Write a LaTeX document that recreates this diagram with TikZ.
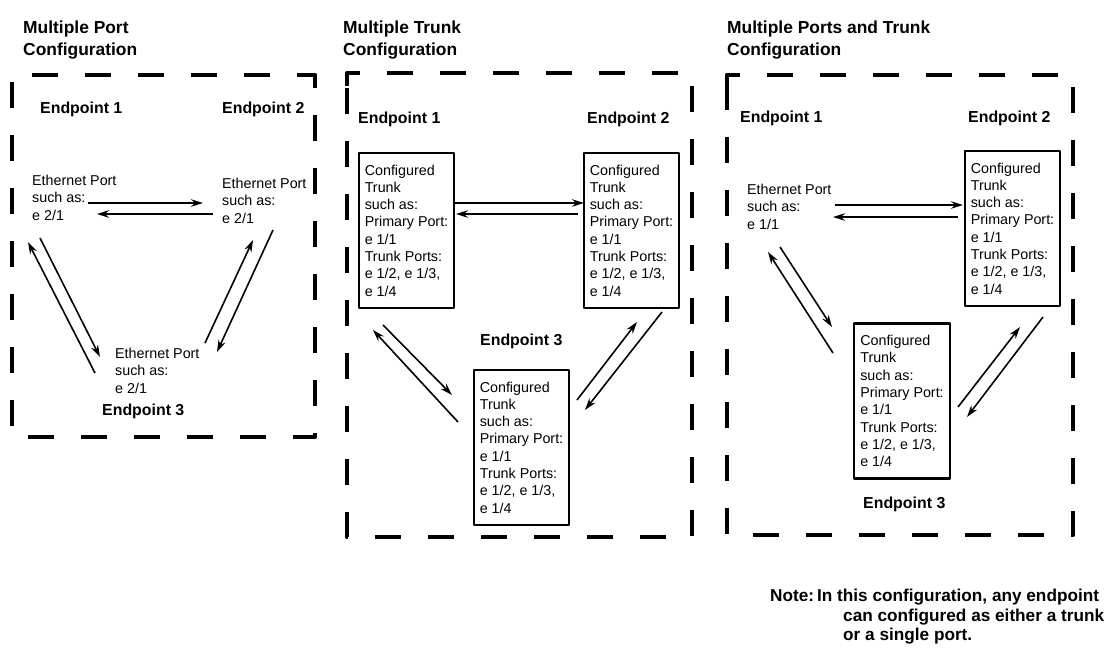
\documentclass[tikz,border=0pt]{standalone}
\usepackage{fontspec}
\setmainfont{Liberation Sans}
\usetikzlibrary{arrows.meta}
\newcommand{\headfont}{\fontsize{17.4}{22}\selectfont\bfseries}
\newcommand{\epfont}{\fontsize{15.9}{19}\selectfont\bfseries}
\newcommand{\bodyfont}{\fontsize{14.3}{17.3}\selectfont}
\newcommand{\notefont}{\fontsize{17.2}{19.5}\selectfont\bfseries}
\tikzset{
  frame/.style={line width=4.8pt, dash pattern=on 26pt off 27pt},
  heading/.style={anchor=north west, inner sep=0pt, align=left, font=\headfont},
  eplabel/.style={anchor=north west, inner sep=0pt, font=\epfont},
  porttext/.style={anchor=north west, inner sep=0pt, align=left, font=\bodyfont},
  trunkbox/.style={draw, line width=2.4pt, align=left, font=\bodyfont,
    minimum width=95pt, minimum height=155pt, inner xsep=6pt},
  link/.style={->, line width=1.6pt},
}
\begin{document}
\begin{tikzpicture}[x=1pt, y=-1pt, >={Stealth[length=12pt,width=7.5pt]}, line join=round]
  \useasboundingbox (0,0) rectangle (1109,654);
  % headings
  \node[heading] (t1) at (23,21) {Multiple Port\\Configuration};
  \node[heading] (t2) at (343,21) {Multiple Trunk\\Configuration};
  \node[heading] (t3) at (727,21) {Multiple Ports and Trunk\\Configuration};
  % dashed frames
  \draw[frame] (302,75) -- (315,75) -- (315,437) -- (12,437) -- (12,75) -- cycle;
  \draw[frame] (347,86) -- (347,73) -- (692,73) -- (692,537) -- (347,537) -- cycle;
  \draw[frame] (727,88) -- (727,75) -- (1073,75) -- (1073,535) -- (727,535) -- cycle;

  % multiple port
  \node[eplabel] (ep11) at (40,102) {Endpoint 1};
  \node[eplabel] (ep12) at (222,102) {Endpoint 2};
  \node[eplabel] (ep13) at (102,404) {Endpoint 3};
  \node[porttext] (port11) at (32,175) {Ethernet Port\\such as:\\e 2/1};
  \node[porttext] (port12) at (222,178) {Ethernet Port\\such as:\\e 2/1};
  \node[porttext] (port13) at (115,348) {Ethernet Port\\such as:\\e 2/1};
  \coordinate (p1a-s) at (88,203);  \coordinate (p1a-e) at (203,203);
  \coordinate (p1b-s) at (213,214); \coordinate (p1b-e) at (97,214);
  \coordinate (p1c-s) at (95,373);  \coordinate (p1c-e) at (28,242);
  \coordinate (p1d-s) at (40,238);  \coordinate (p1d-e) at (100,357);
  \coordinate (p1e-s) at (205,343); \coordinate (p1e-e) at (253,240);
  \coordinate (p1f-s) at (273,230); \coordinate (p1f-e) at (217,352);
  \foreach \i in {a,...,f} \draw[link] (p1\i-s) -- (p1\i-e);

  % multiple trunk
  \node[eplabel] (ep21) at (358,112) {Endpoint 1};
  \node[eplabel] (ep22) at (587,112) {Endpoint 2};
  \node[eplabel] (ep23) at (480,334) {Endpoint 3};
  \node[trunkbox] (trunk21) at (406.5,230.5) {Configured\\Trunk\\such as:\\Primary Port:\\e 1/1\\Trunk Ports:\\e 1/2, e 1/3,\\e 1/4};
  \node[trunkbox] (trunk22) at (631.5,230.5) {Configured\\Trunk\\such as:\\Primary Port:\\e 1/1\\Trunk Ports:\\e 1/2, e 1/3,\\e 1/4};
  \node[trunkbox] (trunk23) at (521.5,447.5) {Configured\\Trunk\\such as:\\Primary Port:\\e 1/1\\Trunk Ports:\\e 1/2, e 1/3,\\e 1/4};
  \coordinate (p2a-s) at (455,203); \coordinate (p2a-e) at (584,203);
  \coordinate (p2b-s) at (578,214); \coordinate (p2b-e) at (456,214);
  \coordinate (p2c-s) at (458,422); \coordinate (p2c-e) at (373,330);
  \coordinate (p2d-s) at (383,325); \coordinate (p2d-e) at (452,395);
  \coordinate (p2e-s) at (577,400); \coordinate (p2e-e) at (637,322);
  \coordinate (p2f-s) at (662,312); \coordinate (p2f-e) at (585,410);
  \foreach \i in {a,...,f} \draw[link] (p2\i-s) -- (p2\i-e);

  % multiple ports and trunk
  \node[eplabel] (ep31) at (740,111) {Endpoint 1};
  \node[eplabel] (ep32) at (968,111) {Endpoint 2};
  \node[eplabel] (ep33) at (863,497) {Endpoint 3};
  \node[porttext] (port31) at (747,184) {Ethernet Port\\such as:\\e 1/1};
  \node[trunkbox] (trunk32) at (1012.5,228.5) {Configured\\Trunk\\such as:\\Primary Port:\\e 1/1\\Trunk Ports:\\e 1/2, e 1/3,\\e 1/4};
  \node[trunkbox] (trunk33) at (902,401) {Configured\\Trunk\\such as:\\Primary Port:\\e 1/1\\Trunk Ports:\\e 1/2, e 1/3,\\e 1/4};
  \coordinate (p3a-s) at (835,205);  \coordinate (p3a-e) at (963,205);
  \coordinate (p3b-s) at (958,217);  \coordinate (p3b-e) at (833,217);
  \coordinate (p3c-s) at (833,353);  \coordinate (p3c-e) at (768,252);
  \coordinate (p3d-s) at (780,247);  \coordinate (p3d-e) at (832,327);
  \coordinate (p3e-s) at (958,407);  \coordinate (p3e-e) at (1020,327);
  \coordinate (p3f-s) at (1043,317); \coordinate (p3f-e) at (967,417);
  \foreach \i in {a,...,f} \draw[link] (p3\i-s) -- (p3\i-e);

  \node[anchor=north west, inner sep=0pt, align=left, font=\notefont] (note) at (770,589)
    {Note:\hspace{3pt}In this configuration, any endpoint\\\hspace*{73pt}can configured as either a trunk\\\hspace*{73pt}or a single port.};
\end{tikzpicture}
\end{document}
